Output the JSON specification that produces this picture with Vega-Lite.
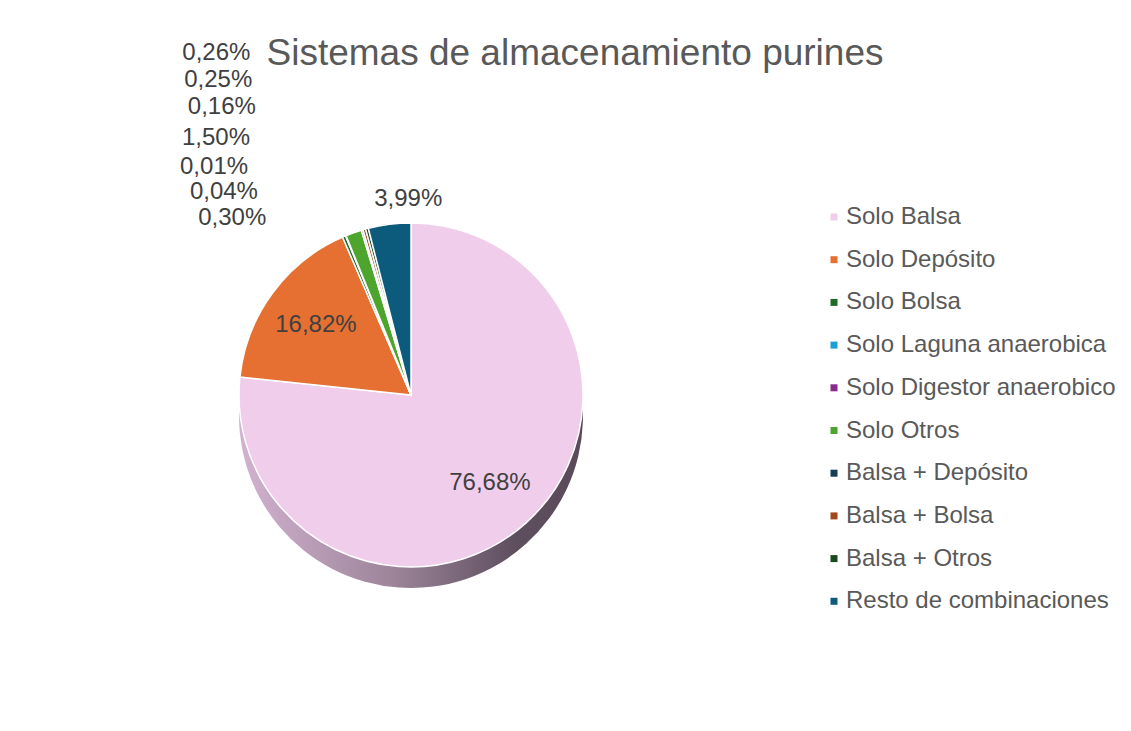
{
  "$schema": "https://vega.github.io/schema/vega-lite/v6.json",
  "autosize": "none",
  "width": 660,
  "height": 590,
  "padding": {"left": 81, "top": 100, "right": 390, "bottom": 41},
  "background": "white",
  "title": {
    "text": "Sistemas de almacenamiento purines",
    "anchor": "middle",
    "frame": "group",
    "dx": 164,
    "dy": 18,
    "offset": -14,
    "fontSize": 37,
    "fontWeight": "normal",
    "color": "#595959",
    "font": "Liberation Sans"
  },
  "data": {
    "values": [
      {"categoria": "Solo Balsa", "porcentaje": 0.7668},
      {"categoria": "Solo Depósito", "porcentaje": 0.1682},
      {"categoria": "Solo Bolsa", "porcentaje": 0.0030},
      {"categoria": "Solo Laguna anaerobica", "porcentaje": 0.0004},
      {"categoria": "Solo Digestor anaerobico", "porcentaje": 0.0001},
      {"categoria": "Solo Otros", "porcentaje": 0.0150},
      {"categoria": "Balsa + Depósito", "porcentaje": 0.0016},
      {"categoria": "Balsa + Bolsa", "porcentaje": 0.0025},
      {"categoria": "Balsa + Otros", "porcentaje": 0.0026},
      {"categoria": "Resto de combinaciones", "porcentaje": 0.0399}
    ]
  },
  "transform": [{"window": [{"op": "row_number", "as": "idx"}]}],
  "layer": [
    {
      "encoding": {
        "theta": {"field": "porcentaje", "type": "quantitative", "stack": true},
        "order": {"field": "idx", "type": "quantitative"}
      },
      "mark": {
        "type": "arc",
        "radius": 172,
        "yOffset": 21,
        "stroke": null,
        "fill": {
          "gradient": "linear",
          "x1": 0, "y1": 0, "x2": 1, "y2": 0,
          "stops": [
            {"offset": 0, "color": "#d2b2d0"},
            {"offset": 0.45, "color": "#9c8499"},
            {"offset": 0.8, "color": "#5e4f5f"},
            {"offset": 1, "color": "#5a4a5a"}
          ]
        }
      }
    },
    {
      "mark": {"type": "arc", "radius": 172, "stroke": "white", "strokeWidth": 1.5},
      "encoding": {
        "theta": {"field": "porcentaje", "type": "quantitative", "stack": true},
        "order": {"field": "idx", "type": "quantitative"},
        "color": {
          "field": "categoria",
          "type": "nominal",
          "scale": {
            "domain": ["Solo Balsa", "Solo Depósito", "Solo Bolsa", "Solo Laguna anaerobica", "Solo Digestor anaerobico", "Solo Otros", "Balsa + Depósito", "Balsa + Bolsa", "Balsa + Otros", "Resto de combinaciones"],
            "range": ["#f0cdeb", "#e57032", "#1e6b26", "#19a0d8", "#8c2a8c", "#4da52e", "#163d56", "#a2481c", "#1a4a1f", "#0d5b7c"]
          },
          "legend": {
            "orient": "none",
            "legendX": 741,
            "legendY": 105,
            "title": null,
            "padding": 0,
            "labelFontSize": 24,
            "labelColor": "#595959",
            "labelFont": "Liberation Sans",
            "labelLimit": 400,
            "labelOffset": 0,
            "symbolType": "square",
            "symbolSize": 49,
            "symbolStrokeWidth": 0,
            "rowPadding": 18.7
          }
        }
      }
    },
    {
      "mark": {"type": "text", "radius": 118, "fontSize": 24, "font": "Liberation Sans", "color": "#404040"},
      "encoding": {
        "theta": {"field": "porcentaje", "type": "quantitative", "stack": true},
        "order": {"field": "idx", "type": "quantitative"},
        "text": {"field": "porcentaje", "type": "quantitative", "format": ".2%"},
        "opacity": {"condition": {"test": "datum.porcentaje > 0.1", "value": 1}, "value": 0}
      }
    },
    {
      "mark": {"type": "text", "radius": 198, "fontSize": 24, "font": "Liberation Sans", "color": "#404040", "align": "left", "dx": -12},
      "encoding": {
        "theta": {"field": "porcentaje", "type": "quantitative", "stack": true},
        "order": {"field": "idx", "type": "quantitative"},
        "text": {"field": "porcentaje", "type": "quantitative", "format": ".2%"},
        "opacity": {"condition": {"test": "datum.porcentaje > 0.02 && datum.porcentaje < 0.1", "value": 1}, "value": 0}
      }
    },
    {
      "transform": [
        {"stack": "porcentaje", "sort": [{"field": "idx", "order": "ascending"}], "as": ["t0", "t1"]},
        {"calculate": "(datum.t0 + datum.t1) / 2", "as": "medio"},
        {"filter": "datum.porcentaje < 0.02"}
      ],
      "mark": {"type": "text", "fontSize": 24, "font": "Liberation Sans", "color": "#404040", "align": "right", "dx": -70},
      "encoding": {
        "theta": {"field": "medio", "type": "quantitative", "stack": null},
        "radius": {"field": "idx", "type": "quantitative", "scale": {"type": "linear", "domain": [3, 9], "range": [192, 354], "zero": false}},
        "text": {"field": "porcentaje", "type": "quantitative", "format": ".2%"}
      }
    }
  ],
  "config": {
    "view": {"stroke": null},
    "locale": {"number": {"decimal": ",", "thousands": ".", "grouping": [3], "currency": ["", " €"]}}
  }
}
